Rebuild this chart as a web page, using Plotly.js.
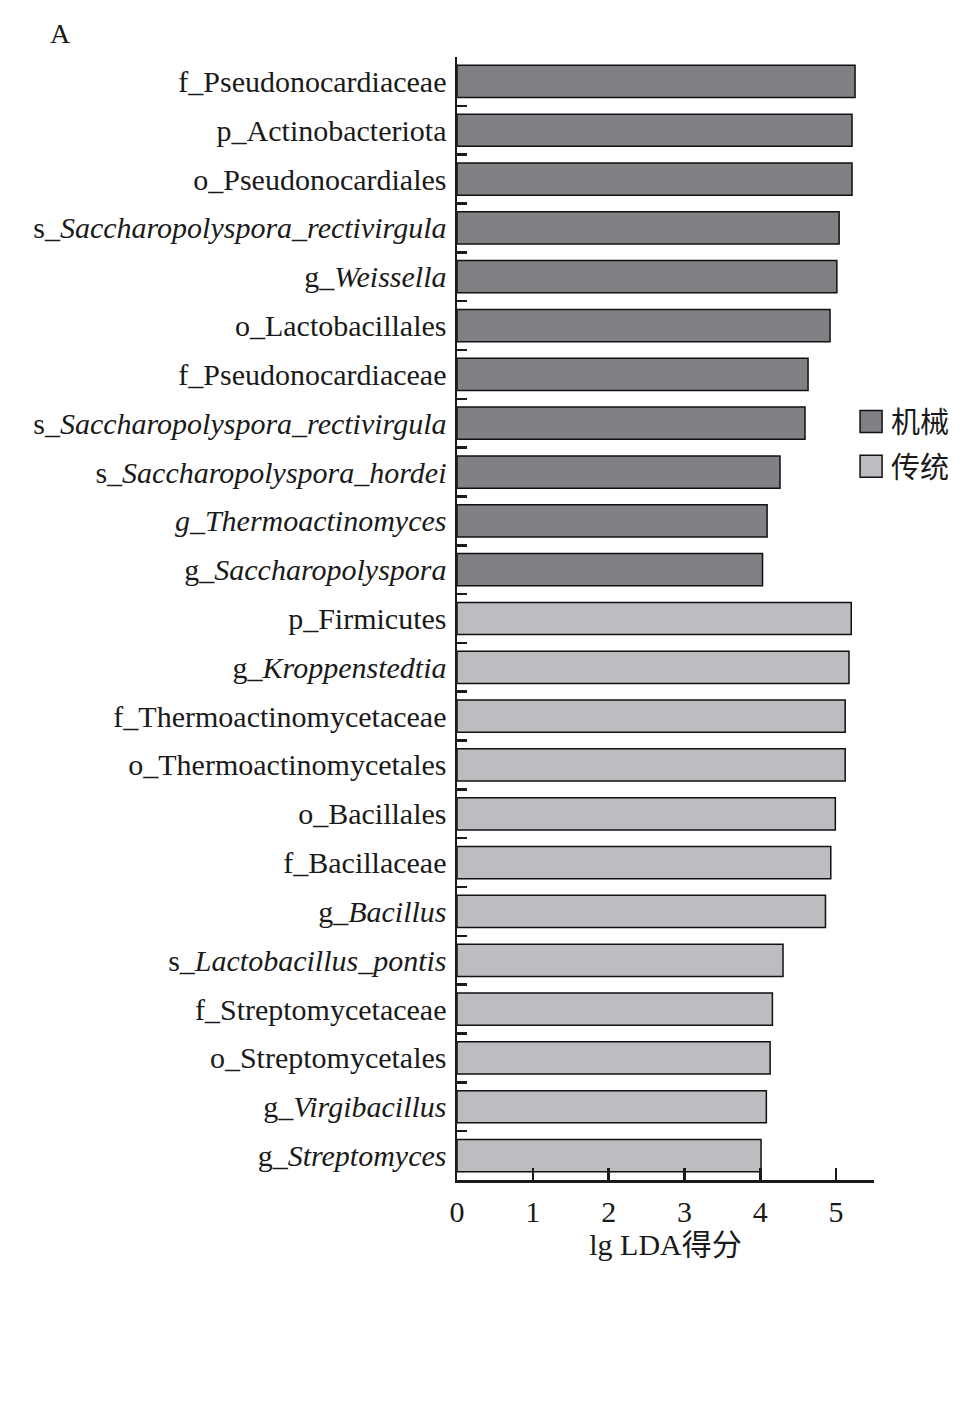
<!DOCTYPE html>
<html>
<head>
<meta charset="utf-8">
<script src="https://cdn.plot.ly/plotly-3.0.1.min.js"></script>
<style>html,body{margin:0;padding:0;background:#fff;}</style>
</head>
<body>
<div id="chart" style="width:969px;height:1405px;"></div>
<script>
// Data (top to bottom)
const jixieLabels = [
  "f_Pseudonocardiaceae",
  "p_Actinobacteriota",
  "o_Pseudonocardiales",
  "s_<i>Saccharopolyspora_rectivirgula</i>",
  "g_<i>Weissella</i>",
  "o_Lactobacillales",
  "f_Pseudonocardiaceae\u200B",
  "s_<i>Saccharopolyspora_rectivirgula</i>\u200B",
  "s_<i>Saccharopolyspora_hordei</i>",
  "<i>g_Thermoactinomyces</i>",
  "g_<i>Saccharopolyspora</i>"
];
const jixieValues = [5.25, 5.21, 5.21, 5.04, 5.01, 4.92, 4.63, 4.59, 4.26, 4.09, 4.03];

const chuantongLabels = [
  "p_Firmicutes",
  "g_<i>Kroppenstedtia</i>",
  "f_Thermoactinomycetaceae",
  "o_Thermoactinomycetales",
  "o_Bacillales",
  "f_Bacillaceae",
  "g_<i>Bacillus</i>",
  "s_<i>Lactobacillus_pontis</i>",
  "f_Streptomycetaceae",
  "o_Streptomycetales",
  "g_<i>Virgibacillus</i>",
  "g_<i>Streptomyces</i>"
];
const chuantongValues = [5.20, 5.17, 5.12, 5.12, 4.99, 4.93, 4.86, 4.30, 4.16, 4.13, 4.08, 4.01];

const seriesNames = ["机械", "传统"];
const xTicks = [0, 1, 2, 3, 4, 5];

const FONT = "'Liberation Serif', 'Times New Roman', 'Noto Sans CJK SC', serif";

const traces = [
  {
    type: "bar", orientation: "h", name: seriesNames[0], legendgroup: "a",
    y: jixieLabels, x: jixieValues,
    marker: {color: "#808184", line: {color: "#111", width: 1.5}},
    hoverinfo: "x+y"
  },
  {
    type: "bar", orientation: "h", name: seriesNames[1], legendgroup: "b",
    y: chuantongLabels, x: chuantongValues,
    marker: {color: "#bcbdc0", line: {color: "#111", width: 1.5}},
    hoverinfo: "x+y"
  }
];

const layout = {
  width: 969, height: 1405,
  margin: {l: 457, r: 95, t: 57, b: 225, pad: 0},
  paper_bgcolor: "#fff", plot_bgcolor: "#fff",
  font: {family: FONT, size: 30, color: "#1a1a1a"},
  barmode: "overlay",
  bargap: 0.34,
  showlegend: true,
  legend: {
    x: 0.945, xanchor: "left", y: 0.698, yanchor: "top",
    font: {family: FONT, size: 29, color: "#1a1a1a"},
    bgcolor: "rgba(0,0,0,0)", tracegroupgap: 4, itemwidth: 30
  },
  xaxis: {
    range: [0, 5.5], tickvals: xTicks, ticktext: xTicks.map(String),
    showline: true, linecolor: "#1a1a1a", linewidth: 2.5,
    ticks: "inside", ticklen: 12, tickwidth: 2.5, tickcolor: "#1a1a1a",
    showgrid: false, zeroline: false,
    tickfont: {family: FONT, size: 30, color: "#1a1a1a"},
    ticklabelstandoff: 3,
    title: {text: "lg LDA得分", font: {family: FONT, size: 30, color: "#1a1a1a"}, standoff: 8}
  },
  yaxis: {
    type: "category",
    categoryorder: "array",
    categoryarray: jixieLabels.concat(chuantongLabels),
    autorange: "reversed",
    showline: true, linecolor: "#1a1a1a", linewidth: 2.5,
    ticks: "inside", tickson: "boundaries", ticklen: 10, tickwidth: 2.5, tickcolor: "#1a1a1a",
    showgrid: false, zeroline: false,
    tickfont: {family: FONT, size: 30, color: "#1a1a1a"},
    ticklabelstandoff: 2
  },
  annotations: [
    {text: "A", xref: "paper", yref: "paper", x: -0.98, y: 1.0, xanchor: "left", yanchor: "bottom",
     yshift: 6, showarrow: false, font: {family: FONT, size: 28, color: "#1a1a1a"}}
  ]
};

Plotly.newPlot("chart", traces, layout, {displayModeBar: false, staticPlot: true}).then(function(gd){
  // enlarge legend swatches to match reference
  gd.querySelectorAll(".legend .legendpoints path").forEach(function(p){
    p.setAttribute("d", "M11,11H-11V-11H11Z");
  });
});
</script>
</body>
</html>
